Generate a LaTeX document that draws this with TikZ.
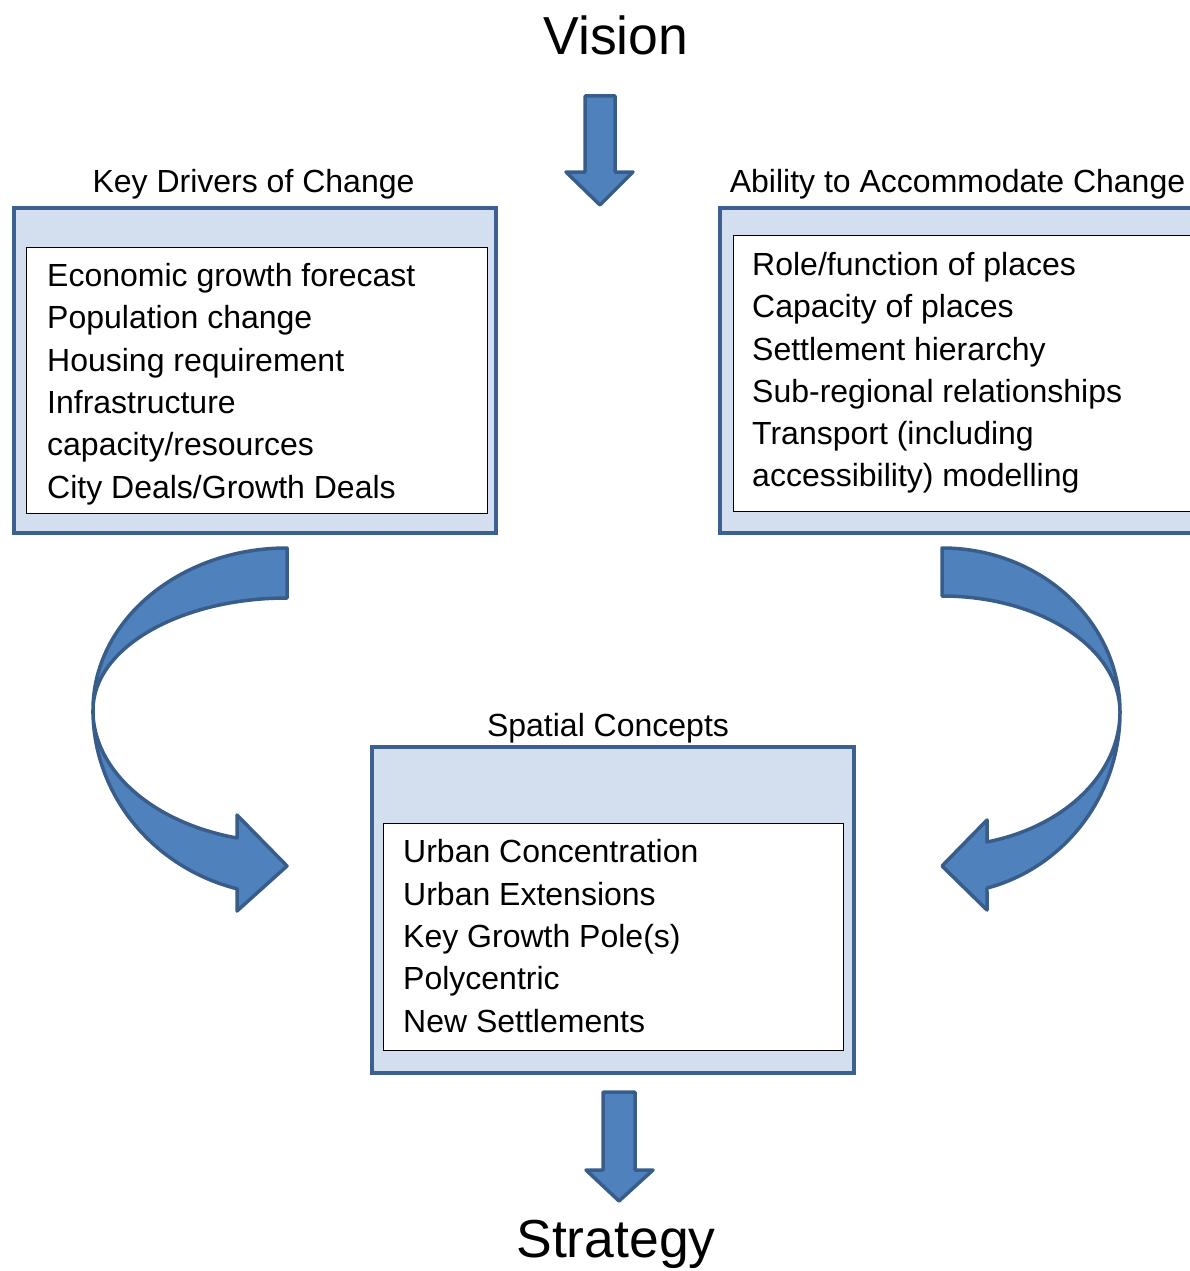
\documentclass[tikz,border=0pt]{standalone}
\usepackage{fontspec}
\setmainfont{Liberation Sans}
\begin{document}
\begin{tikzpicture}[x=1pt,y=-1pt,
  outerbox/.style={draw=boxline,fill=boxfill,line width=4pt},
  innerbox/.style={draw=black,fill=white,line width=1pt},
  bigarrow/.style={draw=arrline,fill=arrfill,line width=3.5pt,line join=round},
  body/.style={anchor=base west,inner sep=0pt,font=\fontsize{32}{38}\selectfont},
  title/.style={anchor=base,inner sep=0pt,font=\fontsize{32}{38}\selectfont},
  huge/.style={anchor=base,inner sep=0pt,font=\fontsize{53.5}{62}\selectfont}]
\definecolor{boxline}{HTML}{3C6090}
\definecolor{boxfill}{HTML}{D3DFEE}
\definecolor{arrline}{HTML}{385D8A}
\definecolor{arrfill}{HTML}{4F81BD}
\useasboundingbox (0,0) rectangle (1190,1271);

% headings
\node[huge] (vision) at (616,55) {Vision};
\node[huge] (strategy) at (616,1257.5) {Strategy};

% straight arrows
\draw[bigarrow] (585,96) -- (615,96) -- (615,172) -- (633,172) -- (600,205) -- (566,172) -- (585,172) -- cycle;
\draw[bigarrow] (603,1092) -- (635,1092) -- (635,1170) -- (653,1170) -- (619,1201) -- (586,1170) -- (603,1170) -- cycle;

% left box
\node[title] (kdt) at (253.5,192.5) {Key Drivers of Change};
\draw[outerbox] (14,208) rectangle (496,533);
\draw[innerbox] (26.5,247.5) rectangle (487.5,513.5);
\node[body] (kd1) at (47,286.5) {Economic growth forecast};
\node[body] (kd2) at (47,328.8) {Population change};
\node[body] (kd3) at (47,371.1) {Housing requirement};
\node[body] (kd4) at (47,413.4) {Infrastructure};
\node[body] (kd5) at (47,455.7) {capacity/resources};
\node[body] (kd6) at (47,498) {City Deals/Growth Deals};

% right box
\node[title] (act) at (957.5,192.5) {Ability to Accommodate Change};
\draw[outerbox] (720,208) rectangle (1215,533);
\draw[innerbox] (733.5,235.5) rectangle (1210,511);
\node[body] (ac1) at (752,275.5) {Role/function of places};
\node[body] (ac2) at (752,317.7) {Capacity of places};
\node[body] (ac3) at (752,360) {Settlement hierarchy};
\node[body] (ac4) at (752,402.2) {Sub-regional relationships};
\node[body] (ac5) at (752,444.4) {Transport (including};
\node[body] (ac6) at (752,486.6) {accessibility) modelling};

% middle box
\node[title] (spt) at (608,736) {Spatial Concepts};
\draw[outerbox] (372,747) rectangle (854,1073);
\draw[innerbox] (383,823.5) rectangle (843,1050);
\node[body] (sc1) at (403,862.7) {Urban Concentration};
\node[body] (sc2) at (403,905) {Urban Extensions};
\node[body] (sc3) at (403,947.3) {Key Growth Pole(s)};
\node[body] (sc4) at (403,989.6) {Polycentric};
\node[body] (sc5) at (403,1032) {New Settlements};

% left curved arrow
\draw[bigarrow] (287,548) arc[start angle=270,end angle=180,x radius=194,y radius=162]
  arc[start angle=180,end angle=270,x radius=194,y radius=112] -- cycle;
\draw[bigarrow] (93,710) arc[start angle=180,end angle=104.9,x radius=194,y radius=185]
  -- (237,911) -- (287,866) -- (237,815) -- (237,838)
  arc[start angle=104.9,end angle=180,x radius=194,y radius=132.4] -- cycle;

% right curved arrow
\draw[bigarrow] (942,548) arc[start angle=270,end angle=360,x radius=178,y radius=164]
  arc[start angle=0,end angle=-90,x radius=178,y radius=116] -- cycle;
\draw[bigarrow] (1120,712) arc[start angle=0,end angle=75.36,x radius=178,y radius=182]
  -- (987,910) -- (942,866) -- (987,820) -- (987,842)
  arc[start angle=75.36,end angle=0,x radius=178,y radius=134.4] -- cycle;
\end{tikzpicture}
\end{document}
